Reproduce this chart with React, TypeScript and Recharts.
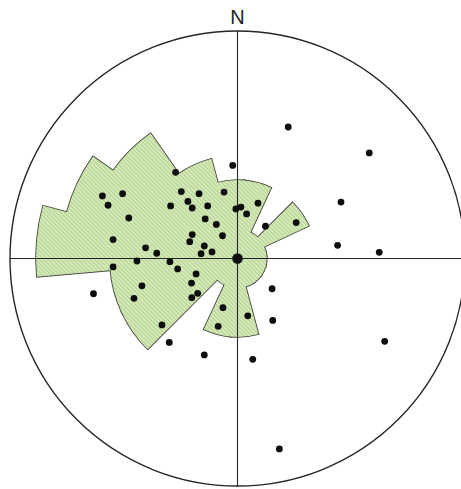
import * as React from "react";
import {
  PieChart,
  Pie,
  ScatterChart,
  Scatter,
  XAxis,
  YAxis,
  ReferenceLine,
  ReferenceDot,
} from "recharts";

// rose diagram: 20 degree bins, bearing of bin start (clockwise from N)
const binStart = [5, 25, 45, 65, 85, 105, 125, 145, 165, 185, 205, 225, 245, 265, 285, 305, 325, 345];
const binCount = [3, 1, 3, 1, 1, 1, 1, 1, 3, 3, 1, 5, 5, 8, 7, 6, 4, 3];
const binWidth = 20;

// poles plotted on the net (unit circle, x = east, y = north)
const poleX = [
  -0.272, -0.594, -0.505, -0.569, -0.294, -0.478, -0.547, -0.404, -0.355, -0.442,
  -0.297, 0.223, -0.021, -0.247, -0.169, -0.059, -0.218, -0.199, -0.131, 0.09,
  0.015, -0.007, 0.04, 0.258, -0.142, -0.093, 0.123, -0.199, -0.066, -0.21,
  -0.146, -0.112, -0.16, -0.547, -0.263, -0.182, -0.202, -0.42, -0.633, -0.175,
  -0.201, -0.455, -0.064, -0.085, -0.332, -0.3, 0.152, 0.045, 0.155, -0.146,
  0.067, 0.579, 0.455, 0.44, 0.623, 0.647, 0.184,
];
const poleY = [
  0.379, 0.275, 0.285, 0.234, 0.231, 0.178, 0.083, 0.047, 0.023, -0.011,
  -0.014, 0.578, 0.409, 0.294, 0.285, 0.292, 0.251, 0.222, 0.231, 0.243,
  0.226, 0.218, 0.196, 0.158, 0.174, 0.15, 0.142, 0.105, 0.1, 0.074,
  0.055, 0.029, 0.021, -0.037, -0.046, -0.068, -0.108, -0.12, -0.155, -0.153,
  -0.172, -0.175, -0.216, -0.298, -0.292, -0.369, -0.133, -0.252, -0.272, -0.424,
  -0.443, 0.464, 0.248, 0.058, 0.027, -0.364, -0.837,
];
const centerPole = [{ x: 0, y: 0 }];
const northLabel = "N";

const W = 461;
const H = 489;
const CX = 237.5;
const CY = 258.5;
const R = 227.5;

const poles = poleX.map((x, i) => ({ x, y: poleY[i] }));
const bins = binStart.map((s, i) => ({ start: s, count: binCount[i] }));
const petalRadius = (n: number) => 4 + 24.6 * n;

const ink = "#262626";

function Rose() {
  // outline layer first (thick stroke), then the fill layer hides the inner edges
  const layer = (outline: boolean) =>
    bins.map((b, i) => (
      <Pie
        key={(outline ? "o" : "f") + i}
        data={[{ value: 1 }]}
        dataKey="value"
        cx={CX}
        cy={CY}
        innerRadius={0}
        outerRadius={petalRadius(b.count)}
        startAngle={90 - b.start}
        endAngle={90 - b.start - binWidth}
        fill="url(#hatch)"
        stroke={outline ? "#45463c" : "url(#hatch)"}
        strokeWidth={outline ? 3 : 1.2}
        label={false}
        labelLine={false}
        isAnimationActive={false}
      />
    ));
  return (
    <PieChart width={W} height={H} margin={{ top: 0, right: 0, bottom: 0, left: 0 }}>
      <defs>
        <pattern
          id="hatch"
          patternUnits="userSpaceOnUse"
          width="3"
          height="3"
          patternTransform="rotate(-45)"
        >
          <rect width="3" height="3" fill="#d6e9bd" />
          <line x1="0" y1="0" x2="0" y2="3" stroke="#9cc96e" strokeWidth="1.3" />
        </pattern>
      </defs>
      {layer(true)}
      {layer(false)}
    </PieChart>
  );
}

export default function App() {
  return (
    <div style={{ position: "absolute", left: 0, top: 0, width: W, height: H, background: "#fff" }}>
      <div style={{ position: "absolute", left: 0, top: 0 }}>
        <Rose />
      </div>
      <div style={{ position: "absolute", left: 0, top: 0 }}>
        <ScatterChart width={W} height={H} margin={{ top: 0, right: 0, bottom: 0, left: 0 }}>
          <XAxis
            type="number"
            dataKey="x"
            domain={[-CX / R, (W - CX) / R]}
            allowDataOverflow
            hide
          />
          <YAxis
            type="number"
            dataKey="y"
            domain={[-(H - CY) / R, CY / R]}
            allowDataOverflow
            hide
          />
          <ReferenceDot
            x={0}
            y={0}
            r={R}
            fill="none"
            stroke={ink}
            strokeWidth={1.4}
            ifOverflow="visible"
          />
          <ReferenceLine
            segment={[{ x: 0, y: -1 }, { x: 0, y: 1 }]}
            stroke={ink}
            strokeWidth={1.1}
            ifOverflow="visible"
          />
          <ReferenceLine
            segment={[{ x: -1, y: 0 }, { x: 1, y: 0 }]}
            stroke={ink}
            strokeWidth={1.1}
            ifOverflow="visible"
          />
          <ReferenceDot
            x={0}
            y={1}
            r={0}
            fill="none"
            stroke="none"
            ifOverflow="visible"
            label={{
              value: northLabel,
              position: "top",
              offset: 7,
              fill: "#222",
              fontSize: 20,
              fontFamily: "Liberation Sans, Arial, sans-serif",
            }}
          />
          <Scatter
            data={poles}
            isAnimationActive={false}
            shape={(p: any) => <circle cx={p.cx} cy={p.cy} r={3.4} fill="#0d0d0d" />}
          />
          <Scatter
            data={centerPole}
            isAnimationActive={false}
            shape={(p: any) => <circle cx={p.cx} cy={p.cy} r={5.3} fill="#0d0d0d" />}
          />
        </ScatterChart>
      </div>
    </div>
  );
}
